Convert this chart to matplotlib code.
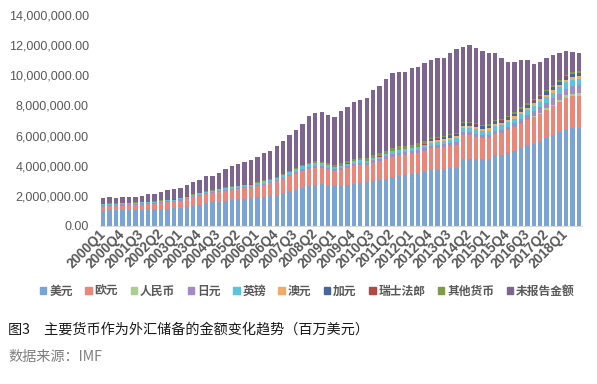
import numpy as np
import matplotlib
matplotlib.use("Agg")
import matplotlib.pyplot as plt
from matplotlib.patches import Rectangle
from matplotlib.ticker import FuncFormatter

plt.rcParams['font.family'] = ['Liberation Sans', 'Noto Sans CJK SC', 'DejaVu Sans']

# quarters 2000Q1 .. 2018Q3
quarters = [f"{y}Q{q}" for y in range(2000, 2019) for q in range(1, 5)][:75]

# holdings in billions of USD (axis shows millions)
usd = [1010, 1030, 1040, 1060, 1070, 1080, 1090, 1110, 1110, 1130, 1150, 1170,
       1210, 1280, 1350, 1420, 1500, 1560, 1620, 1680, 1720, 1760, 1800, 1840,
       1900, 1950, 2000, 2080, 2180, 2300, 2420, 2540, 2640, 2720, 2780, 2700,
       2640, 2680, 2740, 2800, 2850, 2900, 2960, 3030, 3120, 3250, 3330, 3400,
       3450, 3520, 3600, 3700, 3730, 3780, 3820, 3850, 4430, 4450, 4440, 4430,
       4440, 4700, 4720, 4850, 5000, 5150, 5300, 5450, 5650, 5850, 6050, 6250,
       6450, 6500, 6520]
eur = [280, 290, 290, 300, 300, 310, 330, 340, 360, 400, 420, 440,
       480, 530, 560, 590, 600, 620, 640, 660, 670, 680, 690, 700,
       740, 780, 830, 880, 930, 1000, 1060, 1120, 1160, 1150, 1080, 1050,
       1000, 1050, 1120, 1200, 1200, 1130, 1250, 1250, 1330, 1360, 1350, 1330,
       1330, 1330, 1400, 1450, 1450, 1480, 1500, 1550, 1600, 1560, 1480, 1400,
       1400, 1420, 1440, 1500, 1550, 1650, 1720, 1750, 1780, 1850, 1900, 2000,
       2060, 2100, 2120]
rmb = [0] * 67 + [90, 100, 110, 110, 120, 150, 190, 190]
jpy = [100, 100, 95, 95, 90, 90, 85, 85, 80, 80, 80, 80,
       75, 75, 75, 75, 70, 70, 70, 75, 75, 75, 80, 80,
       80, 80, 80, 80, 80, 85, 90, 95, 100, 110, 120, 130,
       130, 130, 130, 130, 140, 150, 160, 170, 170, 175, 180, 180,
       180, 175, 175, 170, 165, 165, 170, 180, 200, 210, 210, 200,
       200, 210, 220, 240, 260, 290, 330, 350, 360, 380, 400, 420,
       450, 480, 500]
gbp = [50, 50, 55, 55, 55, 55, 55, 55, 55, 60, 65, 65,
       70, 70, 75, 80, 90, 95, 100, 105, 110, 115, 120, 130,
       140, 150, 160, 170, 180, 190, 200, 210, 200, 190, 170, 150,
       140, 140, 150, 160, 160, 150, 160, 160, 170, 180, 190, 200,
       200, 210, 220, 220, 220, 220, 230, 240, 280, 300, 300, 290,
       290, 300, 300, 310, 320, 330, 340, 340, 350, 360, 380, 400,
       420, 430, 430]
aud = [0] * 51 + [100, 110, 120, 130, 130, 140, 140, 140, 140, 140,
                  150, 150, 150, 150, 150, 160, 160, 160, 170, 170,
                  170, 180, 180, 180]
cad = [0] * 51 + [110, 120, 130, 140, 140, 150, 150, 150, 150, 150,
                  160, 160, 160, 160, 170, 170, 180, 180, 190, 190,
                  200, 200, 210, 210]
chf = [5] * 24 + [8] * 24 + [15] * 27
other = ([30] * 16
         + [40, 40, 40, 45, 45, 45, 50, 50, 50, 55, 55, 55, 60, 60, 60, 60]
         + [100, 110, 120, 130, 140, 150, 160, 170, 180, 190, 200, 200, 210,
            210, 220, 220, 230, 230, 230]
         + [80, 80, 85, 85, 90, 90, 95, 95, 100, 100, 100, 105, 105, 110,
            110, 110, 115, 115, 120, 120, 125, 125, 130, 130])
unalloc = [365, 395, 365, 395, 390, 370, 415, 475, 460, 575, 640, 640,
           670, 730, 805, 850, 1035, 950, 1025, 1190, 1355, 1430, 1525, 1575,
           1682, 1797, 1847, 2037, 2202, 2397, 2532, 2737, 3092, 3192, 3262, 3202,
           3152, 3472, 3572, 3742, 3822, 3942, 4282, 4472, 4722, 4987, 4962, 4862,
           5055, 5050, 5160, 5175, 5240, 5135, 5370, 5535, 4995, 5090, 4960, 4885,
           4725, 4405, 4060, 3570, 3335, 3145, 2875, 2280, 2180, 2085, 2015, 1750,
           1560, 1335, 1205]

series_names = ['美元', '欧元', '人民币', '日元', '英镑', '澳元', '加元', '瑞士法郎', '其他货币', '未报告金额']
series_vals = [usd, eur, rmb, jpy, gbp, aud, cad, chf, other, unalloc]
colors = ['#7ba4d6', '#e8877a', '#a9d18e', '#a48bc6', '#5bc4dc',
          '#f2ac6a', '#47679a', '#b24a44', '#7f9a4a', '#7d6590']

fig = plt.figure(figsize=(5.97, 3.84), dpi=100)
ax = fig.add_axes([100 / 597, 1 - 226 / 384, 482 / 597, 211 / 384])

x = np.arange(len(quarters))
bottom = np.zeros(len(quarters))
for name, vals, c in zip(series_names, series_vals, colors):
    v = np.array(vals, dtype=float) * 1000  # billions -> millions
    ax.bar(x, v, bottom=bottom, width=0.68, color=c, linewidth=0, label=name)
    bottom += v

ax.set_xlim(-0.5, len(quarters) - 0.5)
ax.set_ylim(0, 14000000)
ax.set_yticks(np.arange(0, 14000001, 2000000))
ax.yaxis.set_major_formatter(FuncFormatter(lambda v, p: f"{v:,.2f}"))
ax.set_xticks(x[::3])
ax.set_xticklabels(quarters[::3], rotation=45, ha='right', va='center',
                   rotation_mode='anchor', fontweight='bold')

for s in ['top', 'right', 'left']:
    ax.spines[s].set_visible(False)
ax.spines['bottom'].set_color('#d9d9d9')
ax.tick_params(axis='y', length=0, pad=8, labelsize=9, labelcolor='#595959')
ax.tick_params(axis='x', length=0, pad=4, labelsize=9.8, labelcolor='#595959')

handles = [Rectangle((0, 0), 1, 1, color=c) for c in colors]
fig.legend(handles, series_names, loc='center', bbox_to_anchor=(0.515, 1 - 292 / 384),
           ncol=10, frameon=False, handlelength=0.55, handleheight=0.55,
           handletextpad=0.25, columnspacing=1.05, labelcolor='#595959',
           prop={'weight': 'bold', 'size': 8.5})

fig.text(8 / 597, 1 - 330 / 384, '图3　主要货币作为外汇储备的金额变化趋势（百万美元）',
         fontsize=10.2, color='#1a1a1a', va='center', ha='left',
         family=['Noto Sans CJK SC', 'DejaVu Sans'])
fig.text(8 / 597, 1 - 357 / 384, '数据来源：IMF', fontsize=10.2, color='#7f7f7f',
         va='center', ha='left', family=['Noto Sans CJK SC', 'DejaVu Sans'])

fig.savefig('out.png', dpi=100)
